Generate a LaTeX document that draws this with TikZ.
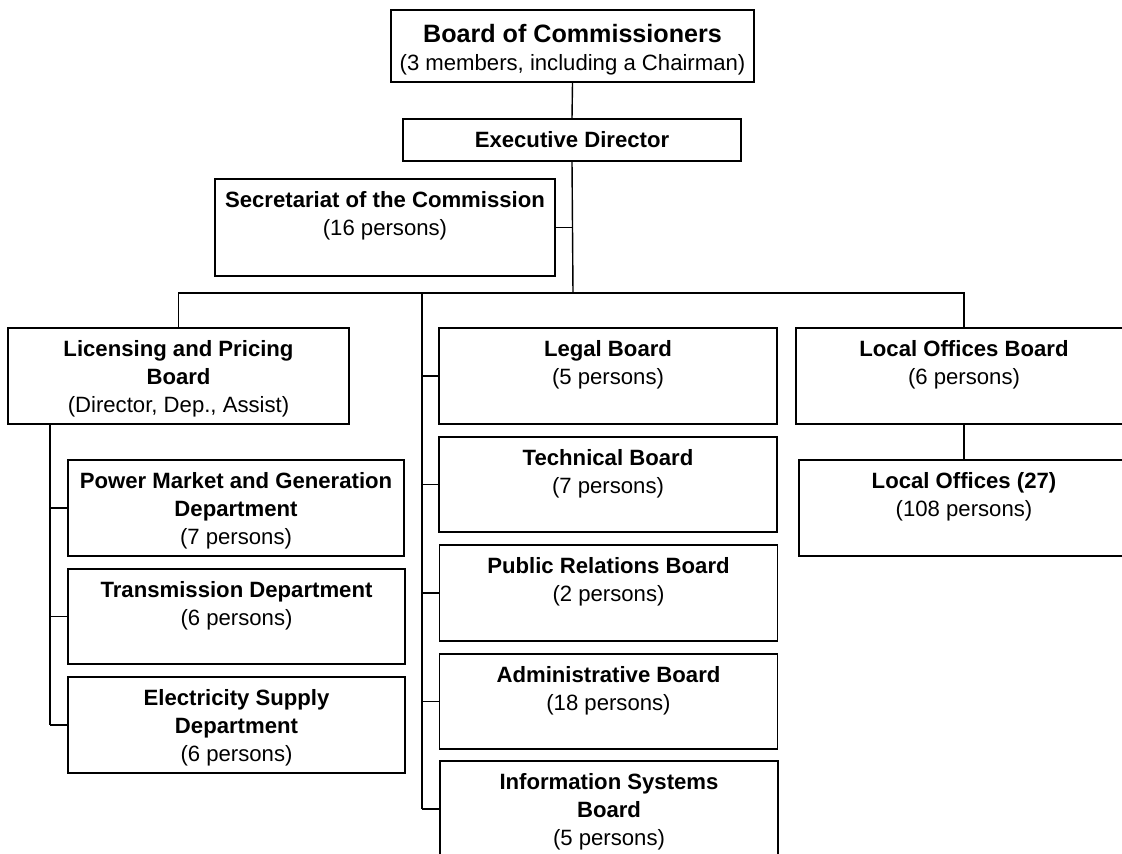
\documentclass[tikz,border=0pt]{standalone}
\usepackage{fontspec}
\setmainfont{Liberation Sans}
\tikzset{
	unit/.style={draw, line width=1pt, inner sep=0pt, minimum width=6.76cm, minimum height=1.92cm},
	caption/.style={anchor=north, align=center, inner sep=0pt, yshift=-7.5pt, font=\fontsize{12.6}{15.9}\selectfont},
	link/.style={line width=0.8pt}
}
\begin{document}
\begin{tikzpicture}[x=0.02cm, y=-0.02cm]
	\useasboundingbox (0,0) rectangle (1122,853);
	\clip (0,0) rectangle (1122,853);

	% head of the commission
	\node[unit, minimum width=7.26cm, minimum height=1.44cm] (board) at (572.5,46) {};
	\node[caption, yshift=-1pt] (board-t) at (board.north) {{\fontsize{14.3}{17}\selectfont\bfseries Board of Commissioners}\\(3 members, including a Chairman)};
	\node[unit, minimum height=0.84cm, font=\fontsize{12.6}{15.9}\selectfont\bfseries] (exec) at (572,140) {Executive Director};
	\node[unit, minimum width=6.8cm, minimum height=1.94cm] (secr) at (385,227.5) {};
	\node[caption] (secr-t) at (secr.north) {\textbf{Secretariat of the Commission}\\(16 persons)};

	% left column
	\node[unit, minimum width=6.82cm] (lic) at (178.5,376) {};
	\node[caption] (lic-t) at (lic.north) {\textbf{Licensing and Pricing}\\\textbf{Board}\\(Director, Dep., Assist)};
	\node[unit, minimum width=6.72cm] (power) at (236,508) {};
	\node[caption] (power-t) at (power.north) {\textbf{Power Market and Generation}\\\textbf{Department}\\(7 persons)};
	\node[unit, minimum width=6.74cm, minimum height=1.9cm] (trans) at (236.5,616.5) {};
	\node[caption] (trans-t) at (trans.north) {\textbf{Transmission Department}\\(6 persons)};
	\node[unit, minimum width=6.74cm] (elec) at (236.5,725) {};
	\node[caption] (elec-t) at (elec.north) {\textbf{Electricity Supply}\\\textbf{Department}\\(6 persons)};

	% middle column
	\node[unit] (legal) at (608,376) {};
	\node[caption] (legal-t) at (legal.north) {\textbf{Legal Board}\\(5 persons)};
	\node[unit, minimum height=1.9cm] (tech) at (608,484.5) {};
	\node[caption] (tech-t) at (tech.north) {\textbf{Technical Board}\\(7 persons)};
	\node[unit] (pr) at (608.5,593) {};
	\node[caption] (pr-t) at (pr.north) {\textbf{Public Relations Board}\\(2 persons)};
	\node[unit, minimum height=1.9cm] (admin) at (608.5,701.5) {};
	\node[caption] (admin-t) at (admin.north) {\textbf{Administrative Board}\\(18 persons)};
	\node[unit] (info) at (609,809) {};
	\node[caption] (info-t) at (info.north) {\textbf{Information Systems}\\\textbf{Board}\\(5 persons)};

	% right column
	\node[unit, minimum width=6.72cm] (lob) at (964,376) {};
	\node[caption] (lob-t) at (lob.north) {\textbf{Local Offices Board}\\(6 persons)};
	\node[unit, minimum width=6.6cm] (lo) at (964,508) {};
	\node[caption] (lo-t) at (lo.north) {\textbf{Local Offices (27)}\\(108 persons)};

	\coordinate (bus) at (573,293);
	\coordinate (midbus) at (422,293);
	\coordinate (licstem) at (50,424);

	\draw[link] (board.south) -- (exec.north);
	\draw[link] (exec.south) -- (bus);
	\draw[link] (secr.east) -- (secr.east -| bus);
	\draw[link] (lic.north) |- (lob.north |- bus) -- (lob.north);
	\draw[link] (lob.south) -- (lob.south |- lo.north);

	\draw[link] (midbus) -- (midbus |- info.west);
	\foreach \b in {legal,tech,pr,admin,info} {
		\draw[link] (\b.west) -- (\b.west -| midbus);
	}
	\draw[link] (licstem) -- (licstem |- elec.west);
	\foreach \b in {power,trans,elec} {
		\draw[link] (\b.west) -- (\b.west -| licstem);
	}
\end{tikzpicture}
\end{document}
